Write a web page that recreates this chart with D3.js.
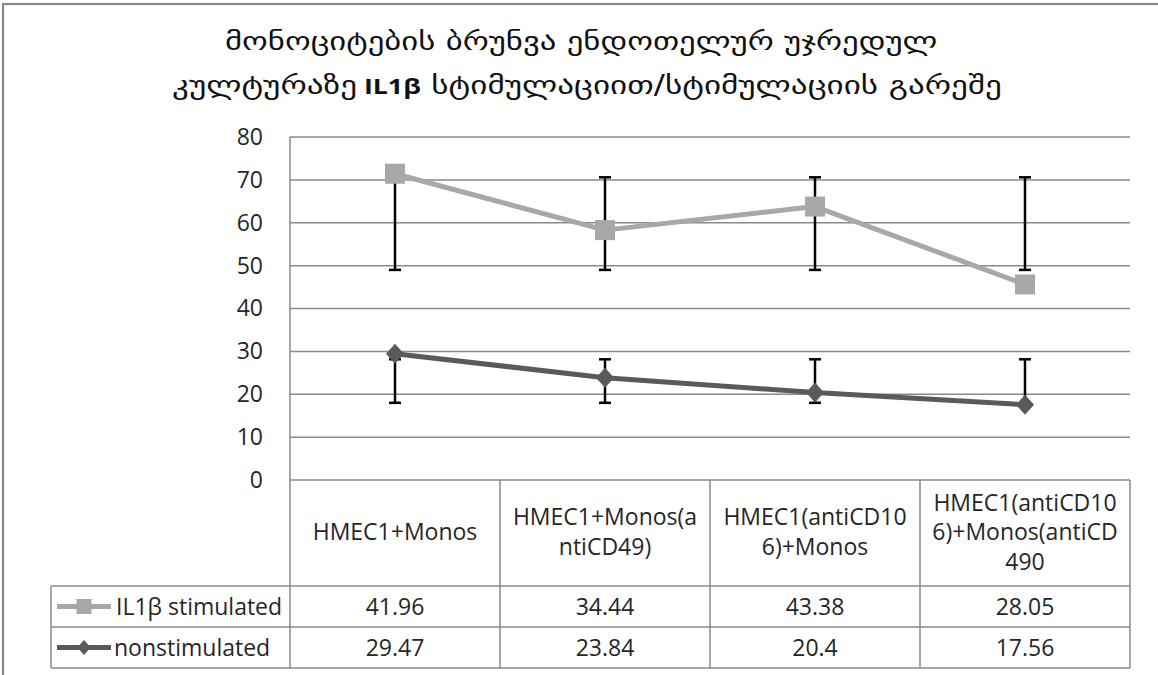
<!DOCTYPE html>
<html>
<head>
<meta charset="utf-8">
<script src="https://cdn.jsdelivr.net/npm/d3@7"></script>
<style>
  html, body { margin: 0; padding: 0; background: #fff; }
  svg { display: block; }
  text { font-family: "Open Sans", sans-serif; fill: #262626; }
</style>
</head>
<body>
<svg id="chart" width="1158" height="675"></svg>
<script>
// ---- data ----
const categories = ["HMEC1+Monos", "HMEC1+Monos(antiCD49)", "HMEC1(antiCD106)+Monos", "HMEC1(antiCD106)+Monos(antiCD490"];
const categoryLines = [
  ["HMEC1+Monos"],
  ["HMEC1+Monos(a", "ntiCD49)"],
  ["HMEC1(antiCD10", "6)+Monos"],
  ["HMEC1(antiCD10", "6)+Monos(antiCD", "490"]
];
const seriesNames = ["IL1β stimulated", "nonstimulated"];
const stimulated = [41.96, 34.44, 43.38, 28.05];
const nonstimulated = [29.47, 23.84, 20.4, 17.56];
const stimErrLow = [49, 49, 49, 49];
const stimErrHigh = [70.6, 70.6, 70.6, 70.6];
const nonErrLow = [18, 18, 18, 18];
const nonErrHigh = [28.15, 28.15, 28.15, 28.15];
const yTicks = [0, 10, 20, 30, 40, 50, 60, 70, 80];
const titleLine1 = "მონოციტების ბრუნვა ენდოთელურ უჯრედულ";
const titleLine2a = "კულტურაზე";
const titleLine2b = " IL1β";
const titleLine2c = " სტიმულაციით/სტიმულაციის გარეშე";

// ---- layout ----
const svg = d3.select("#chart");
const plot = { left: 290, right: 1130, top: 137, bottom: 480 };
const table = { left: 51, headBottom: 586, row1Bottom: 627, row2Bottom: 668 };
const colStim = "#a8a8a8";
const colNon = "#5a5a5a";
const gridCol = "#8a8a8a";

const x = d3.scaleBand().domain(categories).range([plot.left, plot.right]);
const y = d3.scaleLinear().domain([0, 80]).range([plot.bottom, plot.top]);
const cx = c => x(c) + x.bandwidth() / 2;

// stacked values (stacked line chart)
const rows = categories.map((c, i) => ({ cat: c, nonstimulated: nonstimulated[i], stimulated: stimulated[i] }));
const stack = d3.stack().keys(["nonstimulated", "stimulated"])(rows);
const nonTop = stack[0].map(d => d[1]);
const stimTop = stack[1].map(d => d[1]);

// outer frame
svg.append("rect").attr("x", 3).attr("y", 4).attr("width", 1170).attr("height", 700)
  .attr("fill", "none").attr("stroke", "#878787").attr("stroke-width", 2.2);

// title (each line fitted horizontally to the reference span)
const geo = "'DejaVu Sans', sans-serif";
function fitLine(t, x0, x1, base) {
  const w = t.node().getComputedTextLength();
  t.attr("transform", `translate(${x0},${base}) scale(${(x1 - x0) / w},1)`);
}
const t1 = svg.append("text").attr("x", 0).attr("y", 0)
  .style("font-family", geo).style("font-size", "26px").style("fill", "#111").text(titleLine1);
fitLine(t1, 225, 938, 50);
const t2 = svg.append("text").attr("x", 0).attr("y", 0).style("font-size", "26px").style("fill", "#111");
t2.append("tspan").style("font-family", geo).style("fill", "#111").text(titleLine2a);
t2.append("tspan").style("font-family", "'Open Sans', sans-serif").style("font-weight", "bold")
  .style("font-size", "21px").style("fill", "#111").text(titleLine2b);
t2.append("tspan").style("font-family", geo).style("fill", "#111").text(titleLine2c);
fitLine(t2, 172, 1002, 94);

// gridlines
svg.append("g").selectAll("line").data(yTicks).join("line")
  .attr("x1", plot.left).attr("x2", plot.right)
  .attr("y1", d => y(d)).attr("y2", d => y(d))
  .attr("stroke", gridCol).attr("stroke-width", 1.5);

// y axis labels
const yAxis = svg.append("g").attr("transform", `translate(${plot.left},0)`)
  .call(d3.axisLeft(y).tickValues(yTicks).tickSize(0).tickPadding(27));
yAxis.select(".domain").remove();
yAxis.selectAll("text").style("font-family", "'Open Sans', sans-serif").style("font-size", "23px").attr("fill", "#262626");

// table lines
const tl = svg.append("g").attr("stroke", gridCol).attr("stroke-width", 1.5);
tl.append("line").attr("x1", plot.left).attr("x2", plot.left).attr("y1", plot.top).attr("y2", table.row2Bottom);
categories.forEach(c => {
  tl.append("line").attr("x1", x(c) + x.bandwidth()).attr("x2", x(c) + x.bandwidth())
    .attr("y1", plot.bottom).attr("y2", table.row2Bottom);
});
[table.headBottom, table.row1Bottom, table.row2Bottom].forEach(yy => {
  tl.append("line").attr("x1", table.left).attr("x2", plot.right).attr("y1", yy).attr("y2", yy);
});
tl.append("line").attr("x1", table.left).attr("x2", table.left).attr("y1", table.headBottom).attr("y2", table.row2Bottom);

// header category labels
const headMid = (plot.bottom + table.headBottom) / 2 - 1;
const lh = 29.5;
categories.forEach((c, i) => {
  const lines = categoryLines[i];
  const t = svg.append("text").attr("text-anchor", "middle").style("font-size", "23px");
  lines.forEach((ln, j) => {
    t.append("tspan").attr("x", cx(c))
      .attr("y", headMid + (j - (lines.length - 1) / 2) * lh)
      .attr("dy", "0.35em").text(ln);
  });
});

// table values
const row1Mid = (table.headBottom + table.row1Bottom) / 2;
const row2Mid = (table.row1Bottom + table.row2Bottom) / 2;
categories.forEach((c, i) => {
  svg.append("text").attr("x", cx(c)).attr("y", row1Mid).attr("dy", "0.35em")
    .attr("text-anchor", "middle").style("font-size", "23px").text(stimulated[i]);
  svg.append("text").attr("x", cx(c)).attr("y", row2Mid).attr("dy", "0.35em")
    .attr("text-anchor", "middle").style("font-size", "23px").text(nonstimulated[i]);
});

// legend keys in table
const lgX1 = 57, lgX2 = 111, lgC = 84;
svg.append("line").attr("x1", lgX1).attr("x2", lgX2).attr("y1", row1Mid).attr("y2", row1Mid)
  .attr("stroke", colStim).attr("stroke-width", 5);
svg.append("rect").attr("x", lgC - 7.5).attr("y", row1Mid - 7.5).attr("width", 15).attr("height", 15).attr("fill", colStim);
svg.append("text").attr("x", 116).attr("y", row1Mid).attr("dy", "0.35em").style("font-size", "23px").text(seriesNames[0]);
svg.append("line").attr("x1", lgX1).attr("x2", lgX2).attr("y1", row2Mid).attr("y2", row2Mid)
  .attr("stroke", colNon).attr("stroke-width", 5);
svg.append("path").attr("d", `M${lgC},${row2Mid - 7.5}L${lgC + 6.7},${row2Mid}L${lgC},${row2Mid + 7.5}L${lgC - 6.7},${row2Mid}Z`).attr("fill", colNon);
svg.append("text").attr("x", 114).attr("y", row2Mid).attr("dy", "0.35em").style("font-size", "23px").text(seriesNames[1]);

// lines
const line = d3.line().x((d, i) => cx(categories[i])).y(d => y(d));
svg.append("path").datum(nonTop).attr("d", line).attr("fill", "none")
  .attr("stroke", colNon).attr("stroke-width", 5).attr("stroke-linejoin", "round");
svg.append("path").datum(stimTop).attr("d", line).attr("fill", "none")
  .attr("stroke", colStim).attr("stroke-width", 5).attr("stroke-linejoin", "round");

// error bars
function errBars(lo, hi) {
  const g = svg.append("g").attr("stroke", "#000").attr("stroke-width", 2.5);
  categories.forEach((c, i) => {
    const xc = cx(c);
    g.append("line").attr("x1", xc).attr("x2", xc).attr("y1", y(lo[i])).attr("y2", y(hi[i]));
    g.append("line").attr("x1", xc - 6).attr("x2", xc + 6).attr("y1", y(lo[i])).attr("y2", y(lo[i]));
    g.append("line").attr("x1", xc - 6).attr("x2", xc + 6).attr("y1", y(hi[i])).attr("y2", y(hi[i]));
  });
}
errBars(nonErrLow, nonErrHigh);
errBars(stimErrLow, stimErrHigh);

// markers
svg.append("g").selectAll("path").data(nonTop).join("path")
  .attr("d", (d, i) => {
    const px = cx(categories[i]), py = y(d);
    return `M${px},${py - 10}L${px + 9},${py}L${px},${py + 10}L${px - 9},${py}Z`;
  }).attr("fill", colNon);
svg.append("g").selectAll("rect").data(stimTop).join("rect")
  .attr("x", (d, i) => cx(categories[i]) - 10).attr("y", d => y(d) - 10)
  .attr("width", 20).attr("height", 20).attr("fill", colStim);
</script>
</body>
</html>
